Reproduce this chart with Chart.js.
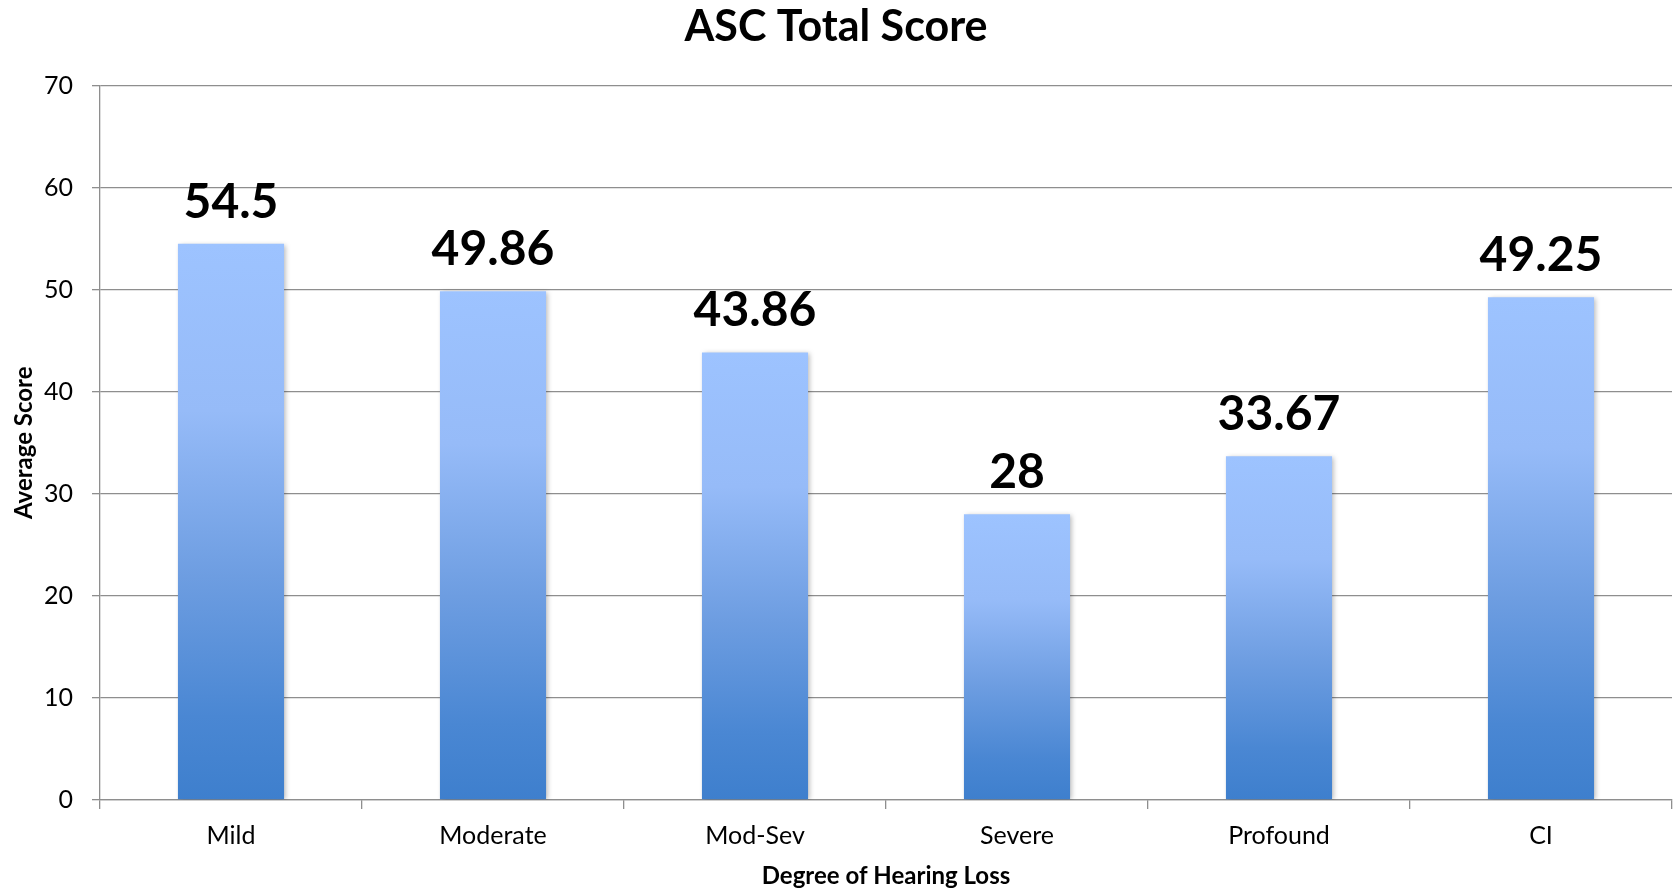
<!DOCTYPE html>
<html lang="en">
<head>
  <meta charset="UTF-8" />
  <title>ASC Total Score</title>
  <script src="https://cdn.jsdelivr.net/npm/chart.js"></script>
  <style>
    body {
      margin: 0;
      background: #fff;
    }
    .container {
      width: 1677px;
      height: 891px;
      position: relative;
    }
  </style>
</head>
<body>
  <div class="container">
    <canvas id="ascChart"></canvas>
  </div>

  <script>
    const categories = ['Mild', 'Moderate', 'Mod-Sev', 'Severe', 'Profound', 'CI'];
    const scores = [54.5, 49.86, 43.86, 28, 33.67, 49.25];
    const yTicks = [0, 10, 20, 30, 40, 50, 60, 70];

    const fontFamily = 'Lato, "Open Sans", sans-serif';
    const axisGray = '#8e8e8e';

    // each bar gets its own light-to-dark gradient, top to base
    function barGradient(context) {
      const chart = context.chart;
      if (!chart.chartArea || !chart.scales.y) return '#6a9be0';
      const y = chart.scales.y;
      const top = y.getPixelForValue(context.raw);
      const base = y.getPixelForValue(0);
      const g = chart.ctx.createLinearGradient(0, top, 0, base);
      g.addColorStop(0, '#9dc3ff');
      g.addColorStop(0.3, '#96bbf8');
      g.addColorStop(0.6, '#6d9de1');
      g.addColorStop(0.85, '#4a87d3');
      g.addColorStop(1, '#3e7fcd');
      return g;
    }

    const barShadow = {
      id: 'barShadow',
      beforeDatasetsDraw(chart) {
        const ctx = chart.ctx;
        ctx.save();
        ctx.shadowColor = 'rgba(0,0,0,0.28)';
        ctx.shadowBlur = 5;
        ctx.shadowOffsetX = 2;
        ctx.shadowOffsetY = 1;
      },
      afterDatasetsDraw(chart) {
        chart.ctx.restore();
      }
    };

    const valueLabels = {
      id: 'valueLabels',
      afterDatasetsDraw(chart) {
        const ctx = chart.ctx;
        const meta = chart.getDatasetMeta(0);
        ctx.save();
        ctx.font = 'bold 48px ' + fontFamily;
        ctx.fillStyle = '#000';
        ctx.textAlign = 'center';
        ctx.textBaseline = 'alphabetic';
        meta.data.forEach((bar, i) => {
          ctx.fillText(String(scores[i]), bar.x, bar.y - 26);
        });
        ctx.restore();
      }
    };

    const ctx = document.getElementById('ascChart').getContext('2d');
    new Chart(ctx, {
      type: 'bar',
      data: {
        labels: categories,
        datasets: [{
          label: 'Average Score',
          data: scores,
          backgroundColor: barGradient,
          borderWidth: 0,
          categoryPercentage: 1,
          barPercentage: 0.405
        }]
      },
      options: {
        responsive: true,
        maintainAspectRatio: false,
        animation: false,
        layout: { padding: { left: 0, right: 5, top: 0, bottom: 0 } },
        plugins: {
          legend: { display: false },
          tooltip: { enabled: false },
          title: {
            display: true,
            text: 'ASC Total Score',
            color: '#000',
            font: { family: fontFamily, size: 43, weight: 'bold', lineHeight: 1.2 },
            padding: { top: 1, bottom: 33 }
          }
        },
        scales: {
          x: {
            afterFit(scale) { scale.height = 91; },
            grid: {
              display: true,
              drawOnChartArea: false,
              drawTicks: true,
              tickLength: 9,
              color: axisGray,
              lineWidth: 1.3
            },
            border: { display: true, color: axisGray, width: 1.3 },
            ticks: {
              color: '#000',
              padding: 12,
              font: { family: fontFamily, size: 25 }
            },
            title: {
              display: true,
              text: 'Degree of Hearing Loss',
              color: '#000',
              font: { family: fontFamily, size: 24, weight: 'bold', lineHeight: 1.2 },
              padding: { top: 0, bottom: 0 }
            }
          },
          y: {
            min: 0,
            max: 70,
            afterFit(scale) { scale.width = 100; },
            afterBuildTicks(scale) {
              scale.ticks = yTicks.map(v => ({ value: v }));
            },
            grid: {
              color: axisGray,
              lineWidth: 1.3,
              drawTicks: true,
              tickLength: 8
            },
            border: { display: true, color: axisGray, width: 1.3 },
            ticks: {
              color: '#000',
              padding: 19,
              font: { family: fontFamily, size: 25 }
            },
            title: {
              display: true,
              text: 'Average Score',
              color: '#000',
              font: { family: fontFamily, size: 24, weight: 'bold', lineHeight: 1.2 },
              padding: { top: 10, bottom: 0 }
            }
          }
        }
      },
      plugins: [barShadow, valueLabels]
    });
  </script>
</body>
</html>
